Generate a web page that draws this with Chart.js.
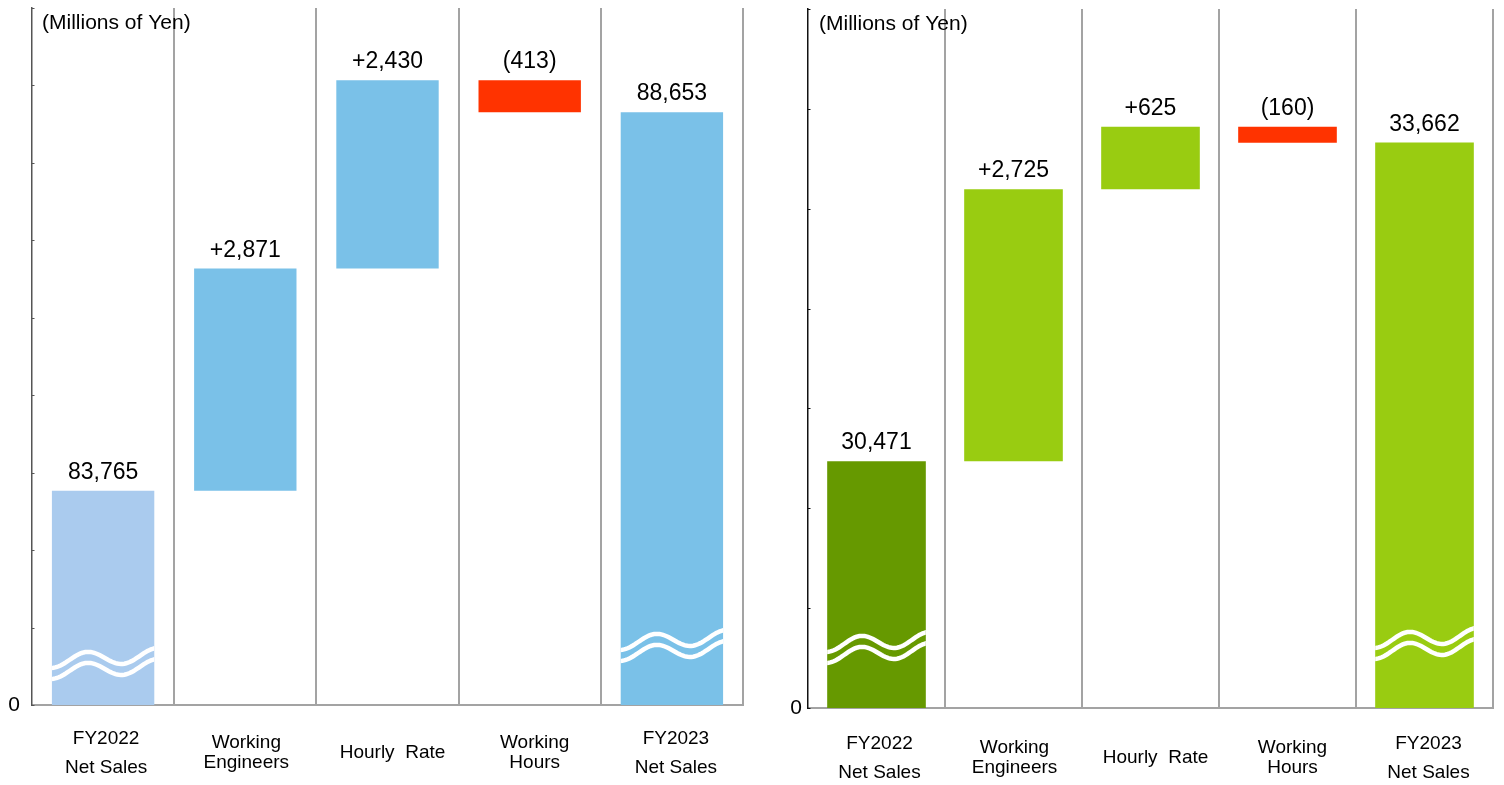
<!DOCTYPE html>
<html>
<head>
<meta charset="utf-8">
<script src="https://cdn.jsdelivr.net/npm/chart.js@4.4.1/dist/chart.umd.min.js"></script>
<style>
  html, body { margin: 0; padding: 0; background: #fff; }
  #wrap { position: relative; width: 1504px; height: 785px; }
  .panel { position: absolute; top: 0; width: 752px; height: 785px; }
  #p1 { left: 0; }
  #p2 { left: 752px; }
</style>
</head>
<body>
<div id="wrap">
  <div class="panel" id="p1"><canvas id="c1" width="752" height="785"></canvas></div>
  <div class="panel" id="p2"><canvas id="c2" width="752" height="785"></canvas></div>
</div>
<script>
// Bridge categories (shared by both panels)
const categories = [
  ["FY2022", "Net Sales"],
  ["Working", "Engineers"],
  ["Hourly  Rate"],
  ["Working", "Hours"],
  ["FY2023", "Net Sales"]
];

// Left panel: net sales bridge (Millions of Yen)
const startSalesA = 83765;
const changesA = [2871, 2430, -413];
const endSalesA = 88653;
const axisRangeA = [81000, 90000];   // broken axis, bottom shown as 0

// Right panel: net sales bridge (Millions of Yen)
const startSalesB = 30471;
const changesB = [2725, 625, -160];
const endSalesB = 33662;
const axisRangeB = [28000, 35000];   // broken axis, bottom shown as 0

const unitLabel = "(Millions of Yen)";
const FONT = "'Liberation Sans', Arial, sans-serif";

const fmt = v => v.toLocaleString("en-US");
const fmtChange = v => v >= 0 ? "+" + fmt(v) : "(" + fmt(-v) + ")";

// Draws the inner tick marks, break marks, value labels, category labels and unit caption
const bridgeDecor = {
  id: "bridgeDecor",
  afterDraw(chart, args, opts) {
    const ctx = chart.ctx;
    const area = chart.chartArea;
    const meta = chart.getDatasetMeta(0);
    const ds = chart.data.datasets[0];
    const xScale = chart.scales.x;
    const yScale = chart.scales.y;

    // small tick marks on the inside of the value axis
    ctx.save();
    ctx.strokeStyle = opts.tickColor;
    ctx.lineWidth = 1;
    yScale.ticks.forEach(t => {
      const y = Math.round(yScale.getPixelForValue(t.value)) + 0.5;
      ctx.beginPath();
      ctx.moveTo(area.left, y);
      ctx.lineTo(area.left + 2.5, y);
      ctx.stroke();
    });
    ctx.restore();

    // wavy break marks across the total bars
    opts.waves.forEach(wv => {
      const bar = meta.data[wv.index];
      const x0 = bar.x - bar.width / 2;
      const w = bar.width;
      ctx.save();
      ctx.beginPath();
      ctx.rect(x0, area.top, w, area.bottom - area.top + 10);
      ctx.clip();
      ctx.strokeStyle = "#ffffff";
      ctx.lineWidth = 4.5;
      [0, opts.waveGap].forEach(dy => {
        const yc = area.bottom - wv.offset + dy;
        ctx.beginPath();
        for (let i = 0; i <= 60; i++) {
          const t = i / 60;
          const y = yc - 7 * Math.sin(2 * Math.PI * (t - 0.185) / 0.66) - 6 * t;
          const x = x0 - 2 + t * (w + 4);
          if (i === 0) ctx.moveTo(x, y); else ctx.lineTo(x, y);
        }
        ctx.stroke();
      });
      ctx.restore();
    });

    // value labels above each bar
    ctx.save();
    ctx.fillStyle = "#000";
    ctx.font = "23px " + FONT;
    ctx.textAlign = "center";
    ctx.textBaseline = "alphabetic";
    meta.data.forEach((bar, i) => {
      const top = Math.min(bar.y, bar.base);
      ctx.fillText(ds.valueText[i], bar.x, top - 12);
    });
    ctx.restore();

    // category labels under the axis
    ctx.save();
    ctx.fillStyle = "#000";
    ctx.font = "19px " + FONT;
    ctx.textAlign = "center";
    ctx.textBaseline = "middle";
    chart.data.labels.forEach((lines, i) => {
      const x = xScale.getPixelForTick(i) + opts.labelDx[i];
      const gap = opts.lineGaps[i];
      const cy = area.bottom + opts.labelCenter;
      const y0 = cy - gap * (lines.length - 1) / 2;
      lines.forEach((ln, k) => ctx.fillText(ln, x, y0 + k * gap));
    });
    ctx.restore();

    // unit caption
    ctx.save();
    ctx.fillStyle = "#000";
    ctx.font = "21px " + FONT;
    ctx.textAlign = "left";
    ctx.textBaseline = "alphabetic";
    ctx.fillText(unitLabel, area.left + opts.captionDx, area.top + 21);
    ctx.restore();
  }
};

function buildBridge(canvasId, p) {
  const ranges = [];
  let run = p.start;
  ranges.push([p.range[0], p.start]);
  p.changes.forEach(c => { ranges.push([run, run + c]); run += c; });
  ranges.push([p.range[0], p.end]);

  const valueText = [fmt(p.start), ...p.changes.map(fmtChange), fmt(p.end)];
  const colors = [p.startColor, ...p.changes.map(c => c >= 0 ? p.upColor : p.downColor), p.endColor];
  const nCat = categories.length;

  return new Chart(document.getElementById(canvasId), {
    type: "bar",
    data: {
      labels: categories,
      datasets: [{
        data: ranges,
        backgroundColor: colors,
        borderWidth: 0,
        barPercentage: 0.72,
        categoryPercentage: 1.0,
        valueText: valueText
      }]
    },
    options: {
      responsive: false,
      animation: false,
      devicePixelRatio: 1,
      layout: { padding: { left: 0, right: p.padRight, top: p.padTop, bottom: 0 } },
      plugins: {
        legend: { display: false },
        tooltip: { enabled: false },
        bridgeDecor: {
          waves: p.waves,
          waveGap: 11,
          lineGaps: [29, 20, 0, 20, 29],
          labelDx: [3, 1, 5, 5, 4],
          labelCenter: p.labelCenter,
          captionDx: p.captionDx,
          tickColor: p.axisColor
        }
      },
      scales: {
        x: {
          offset: true,
          grid: {
            offset: true,
            drawTicks: false,
            lineWidth: 2,
            color: c => c.index === 0 ? "rgba(0,0,0,0)" : (c.index === nCat ? p.edgeColor : "#a3a3a3")
          },
          border: { display: true, color: "#a3a3a3", width: 2 },
          ticks: { display: false },
          afterFit: s => { s.height = p.xHeight; }
        },
        y: {
          min: p.range[0],
          max: p.range[1],
          ticks: {
            stepSize: 1000,
            autoSkip: false,
            color: "#000",
            font: c => ({ family: FONT, size: (c.tick && c.tick.value === p.range[0]) ? 21 : 1 }),
            padding: 3,
            callback: v => v === p.range[0] ? "0" : ""
          },
          grid: { drawOnChartArea: false, drawTicks: true, tickLength: p.yTickGap, color: "rgba(0,0,0,0)" },
          border: { display: true, color: p.axisColor, width: 1.5 },
          afterFit: s => { s.width = p.yWidth; }
        }
      }
    },
    plugins: [bridgeDecor]
  });
}

buildBridge("c1", {
  start: startSalesA, changes: changesA, end: endSalesA, range: axisRangeA,
  startColor: "#aacbee", upColor: "#7ac1e8", downColor: "#ff3300", endColor: "#7ac1e8",
  padRight: 9, padTop: 8, xHeight: 80, yWidth: 32, yTickGap: 9,
  axisColor: "#555555", edgeColor: "#d4d4d4",
  waves: [{ index: 0, offset: 44 }, { index: 4, offset: 62 }],
  labelCenter: 48, captionDx: 10
});

buildBridge("c2", {
  start: startSalesB, changes: changesB, end: endSalesB, range: axisRangeB,
  startColor: "#669900", upColor: "#99cc11", downColor: "#ff3300", endColor: "#99cc11",
  padRight: 11, padTop: 9, xHeight: 77, yWidth: 56, yTickGap: 3,
  axisColor: "#111111", edgeColor: "#a3a3a3",
  waves: [{ index: 0, offset: 63 }, { index: 4, offset: 67 }],
  labelCenter: 50, captionDx: 11
});
</script>
</body>
</html>
